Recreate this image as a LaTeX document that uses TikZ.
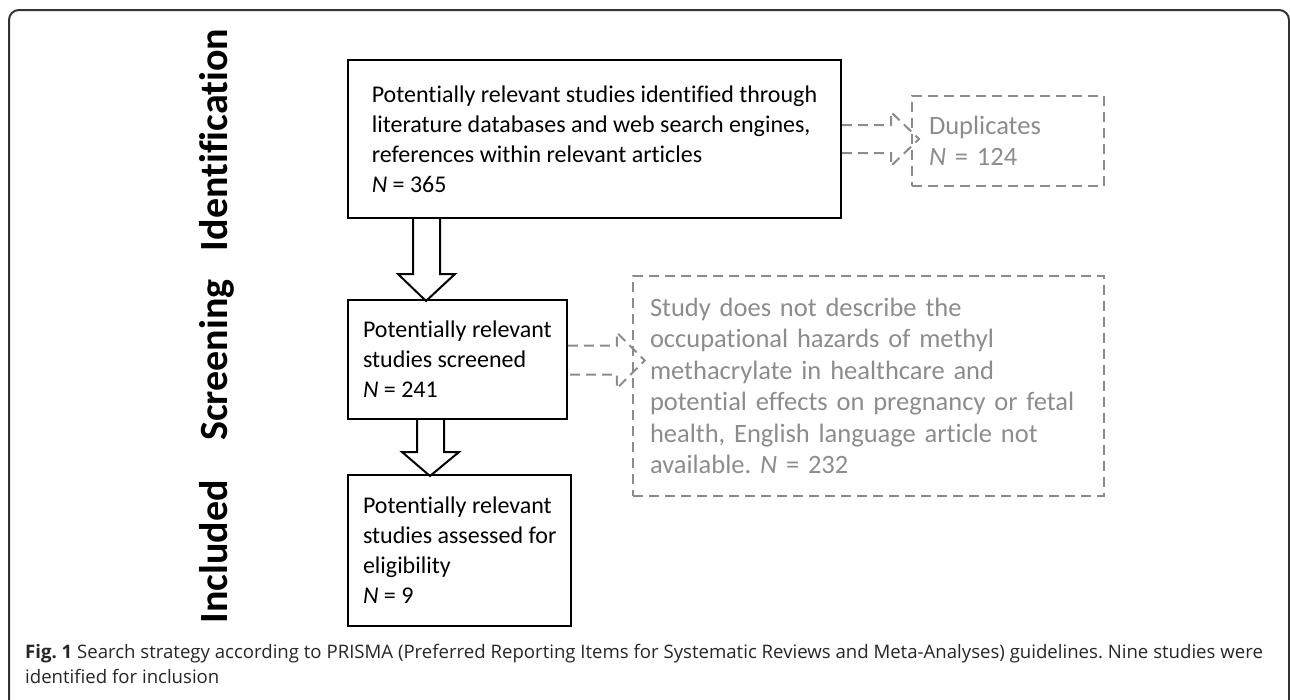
\documentclass[tikz,border=0pt]{standalone}
\usepackage{fontspec}
\setmainfont{Carlito}[Ligatures=NoCommon]
\newfontfamily\capfont{Open Sans}
\usetikzlibrary{positioning}
\definecolor{hazegray}{HTML}{8C8C8C}
\definecolor{framegray}{HTML}{333333}
\tikzset{
  stagebox/.style={draw, line width=2, align=left, anchor=north west, inner xsep=15,
    font=\fontsize{24}{30}\selectfont},
  skipbox/.style={draw=hazegray, dash pattern=on 10 off 6, line width=2, text=hazegray,
    align=left, anchor=north west, inner xsep=17, font=\fontsize{26.5}{31.5}\selectfont},
  phase/.style={rotate=90, anchor=base, font=\fontsize{40}{40}\selectfont\bfseries},
  hollow/.style={line width=2},
  skiparrow/.style={draw=hazegray, line width=2, dash pattern=on 10 off 6},
}
\frenchspacing
\begin{document}
\begin{tikzpicture}[x=1pt, y=-1pt]
    \useasboundingbox (0,0) rectangle (1290,699);
    \clip (0,0) rectangle (1290,699);
    \draw[framegray, line width=2, rounded corners=10] (9,720) |- (1289,10) -- (1289,720);

    % stage labels
    \node[phase] (identlab) at (227,140) {Identification};
    \node[phase] (screenlab) at (227,360) {Screening};
    \node[phase] (inclab) at (227,552) {Included};

    % main boxes
    \node[stagebox, minimum width=493, minimum height=158] (found) at (347,59)
        {Potentially relevant studies identified through\\literature databases and web search engines,\\references within relevant articles\\\textit{N} = 365};
    \node[stagebox, minimum width=214, minimum height=119] (screen) at (347,299)
        {Potentially relevant\\studies screened\\\textit{N} = 241};
    \node[stagebox, minimum width=214, minimum height=151] (assess) at (347,474)
        {Potentially relevant\\studies assessed for\\eligibility\\\textit{N} = 9};

    % excluded boxes
    \node[skipbox, text width=158, minimum height=90] (dupes) at (911,95)
        {Duplicates\\\textit{N} = 124};
    \node[skipbox, text width=437, minimum height=220] (offtopic) at (632,275)
        {Study does not describe the\\occupational hazards of methyl\\methacrylate in healthcare and\\potential effects on pregnancy or fetal\\health, English language article not\\available. \textit{N} = 232};

    % hollow arrows
    \draw[hollow] (found.south west) ++(66,0) -- ++(0,55) -- ++(-15,0) -- ++(28,27)
        -- ++(29,-27) -- ++(-15,0) -- ++(0,-55);
    \draw[hollow] (screen.south west) ++(70,0) -- ++(0,32) -- ++(-15,0) -- ++(28,24)
        -- ++(29,-24) -- ++(-15,0) -- ++(0,-32);

    % dashed arrows
    \draw[skiparrow] (found.east) ++(0,-14) -- ++(49,0) -- ++(0,-13) -- ++(28,27)
        -- ++(-28,27) -- ++(0,-13) -- ++(-49,0);
    \draw[skiparrow] (screen.east) ++(0,-14) -- ++(49,0) -- ++(0,-13) -- ++(28,28)
        -- ++(-28,28) -- ++(0,-14) -- ++(-49,0);

    % caption
    \node[anchor=north west, align=left, inner sep=0, text=black!85,
        font=\capfont\fontsize{18.6}{25}\selectfont] (caption) at (25,644)
        {\textbf{Fig. 1} Search strategy according to PRISMA (Preferred Reporting Items for Systematic Reviews and Meta-Analyses) guidelines. Nine studies were\\identified for inclusion};
\end{tikzpicture}
\end{document}
